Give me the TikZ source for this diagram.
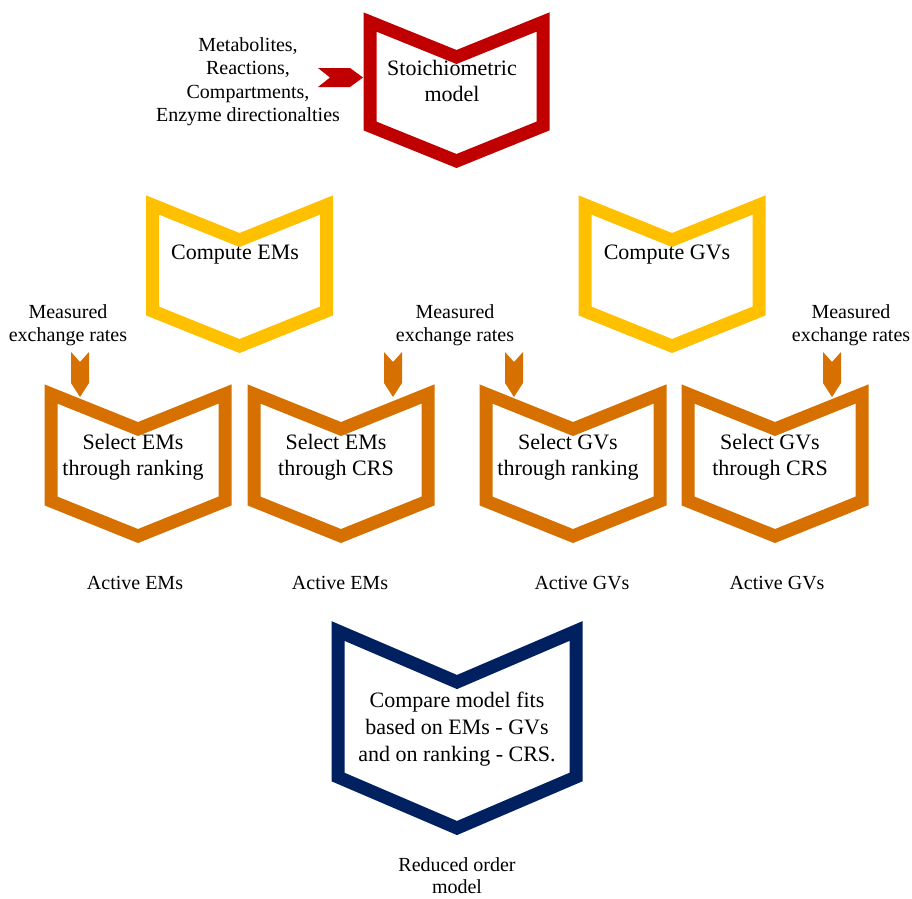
\documentclass[tikz,border=0pt]{standalone}
\usepackage{fontspec}
\setmainfont{Liberation Serif}
\usetikzlibrary{calc}
\definecolor{cred}{RGB}{192,0,0}
\definecolor{cyel}{RGB}{255,192,0}
\definecolor{corg}{RGB}{214,112,0}
\definecolor{cblu}{RGB}{0,32,96}
\tikzset{
  chev/.style={line width=13pt, line join=miter},
  big/.style={font=\fontsize{22}{26}\selectfont, align=center, inner sep=0pt},
  small/.style={font=\fontsize{20}{23.5}\selectfont, align=center, inner sep=0pt},
}
% name, colour, cx, ytop, W, H, D
\newcommand\chevbox[7]{%
  \draw[chev,#2] ({#3-#5/2},{#4}) -- ({#3},{#4+#7}) -- ({#3+#5/2},{#4})
    -- ({#3+#5/2},{#4+#6}) -- ({#3},{#4+#6+#7}) -- ({#3-#5/2},{#4+#6}) -- cycle;
  \coordinate (#1) at ({#3},{#4});}
% colour, from coordinate, to coordinate (vertical, downward)
\newcommand\downarr[3]{%
  \fill[#1] ($(#2)+(-9,0)$) -- ($(#2)+(0,10)$) -- ($(#2)+(9,0)$)
    -- ($(#3)+(9,-14)$) -- ($(#3)$) -- ($(#3)+(-9,-14)$) -- cycle;}
\begin{document}
\begin{tikzpicture}[x=1pt,y=-1pt]
\useasboundingbox (0,0) rectangle (912,898);

% boxes
\chevbox{stoich}{cred}{456.5}{22}{173}{104}{35}
\chevbox{cem}{cyel}{239.5}{205}{174}{106}{35}
\chevbox{cgv}{cyel}{672}{205}{174}{106}{35}
\chevbox{s1}{corg}{138}{394}{174}{107}{35}
\chevbox{s2}{corg}{341}{394}{174}{107}{35}
\chevbox{s3}{corg}{573}{394}{174}{107}{35}
\chevbox{s4}{corg}{775}{394}{174}{107}{35}
\chevbox{cmp}{cblu}{457}{631}{238}{146}{51}

% texts
\node[small] (inputs) at (248,81.5) {Metabolites,\\Reactions,\\Compartments,\\Enzyme directionalties};
\node[big] (tstoich) at (452,81) {Stoichiometric\\model};
\node[big] (tcem) at (235,255) {Compute EMs};
\node[big] (tcgv) at (667,255) {Compute GVs};
\node[small] (m1) at (68,325) {Measured\\exchange rates};
\node[small] (m2) at (455,325) {Measured\\exchange rates};
\node[small] (m3) at (851,325) {Measured\\exchange rates};
\node[big] (ts1) at (133,457.5) {Select EMs\\through ranking};
\node[big] (ts2) at (336,457.5) {Select EMs\\through CRS};
\node[big] (ts3) at (568,457.5) {Select GVs\\through ranking};
\node[big] (ts4) at (770,457.5) {Select GVs\\through CRS};
\node[small] (a1) at (135,583) {Active EMs};
\node[small] (a2) at (340,583) {Active EMs};
\node[small] (a3) at (582,583) {Active GVs};
\node[small] (a4) at (777,583) {Active GVs};
\node[big, font=\fontsize{22}{27}\selectfont] (tcmp) at (457,729.5) {Compare model fits\\based on EMs - GVs\\and on ranking - CRS.};
\node[small, font=\fontsize{20}{21.5}\selectfont] (out) at (457,875.5) {Reduced order\\model};

% red input arrow
\coordinate (ra0) at (318,77.5);
\coordinate (ra1) at (363,77.5);
\fill[cred] ($(ra0)+(0,-9.5)$) -- ($(ra0)+(12,0)$) -- ($(ra0)+(0,9.5)$)
  -- ($(ra1)+(-13,9.5)$) -- (ra1) -- ($(ra1)+(-13,-9.5)$) -- cycle;

% orange measurement arrows
\coordinate (d1a) at (80,352);  \coordinate (d1b) at (80,397);
\coordinate (d2a) at (393,352); \coordinate (d2b) at (393,397);
\coordinate (d3a) at (514,352); \coordinate (d3b) at (514,397);
\coordinate (d4a) at (832,352); \coordinate (d4b) at (832,397);
\downarr{corg}{d1a}{d1b}
\downarr{corg}{d2a}{d2b}
\downarr{corg}{d3a}{d3b}
\downarr{corg}{d4a}{d4b}
\end{tikzpicture}
\end{document}
